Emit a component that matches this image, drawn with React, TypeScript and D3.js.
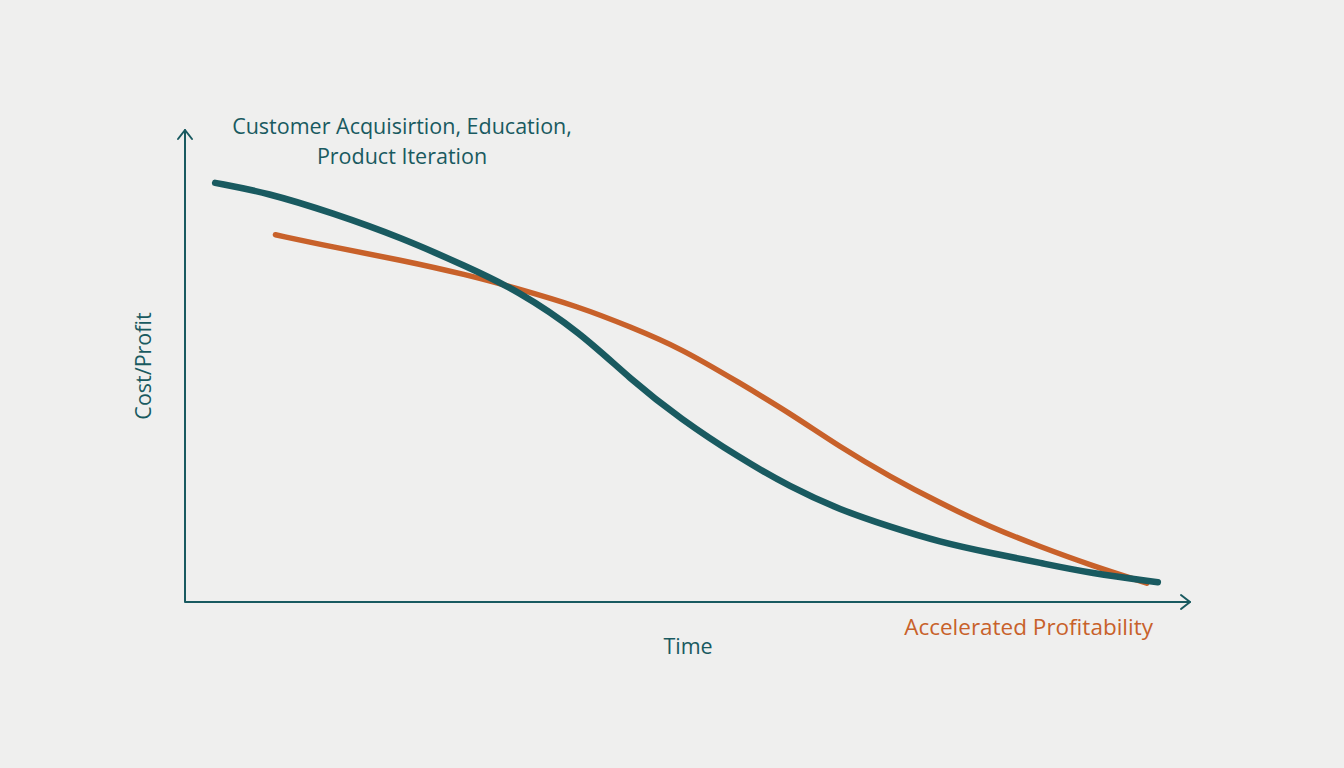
import React from 'react';
import * as d3 from 'd3';

// values, time 0-100 / cost-profit 0-100
const costTime = [3, 8.2, 14.7, 21.4, 28.1, 33, 39.3, 44.3, 49.3, 55.2, 60.2, 65.2, 70.2, 75.1, 80.1, 85.1, 90.1, 96.8];
const costValue = [88.8, 86.7, 82.4, 77.3, 71, 66.1, 57.2, 47.2, 38.8, 30.5, 24.4, 19.5, 15.9, 12.7, 10.4, 8.3, 6.1, 4.2];

const profitTime = [9, 14.7, 21.4, 28.1, 32.6, 39.3, 44.3, 49.3, 55.2, 60.2, 65.2, 70.2, 75.1, 80.1, 85.1, 90.1, 95.7];
const profitValue = [77.8, 75.2, 72.5, 69.3, 66.7, 62.5, 58.3, 53.8, 46.4, 40, 32.8, 26.5, 21, 15.9, 11.7, 7.8, 4];

const titleLines = ['Customer Acquisirtion, Education,', 'Product Iteration'];
const yLabel = 'Cost/Profit';
const xLabel = 'Time';
const endLabel = 'Accelerated Profitability';

const W = 1344;
const H = 768;
const TEAL = '#195a60';
const ORANGE = '#c8612a';
const FONT = '"Open Sans", "Noto Sans", sans-serif';

export default function App() {
  const xScale = d3.scaleLinear().domain([0, 100]).range([185, 1190]);
  const yScale = d3.scaleLinear().domain([0, 100]).range([602, 130]);

  // basis smooths out the reading noise in the hand-read points
  const line = d3.line<[number, number]>()
    .x((d) => xScale(d[0]))
    .y((d) => yScale(d[1]))
    .curve(d3.curveBasis);

  const costPts = costTime.map((t, i) => [t, costValue[i]] as [number, number]);
  const profitPts = profitTime.map((t, i) => [t, profitValue[i]] as [number, number]);

  const x0 = xScale(0);
  const x1 = xScale(100);
  const y0 = yScale(0);
  const y1 = yScale(100);

  return (
    <svg
      width={W}
      height={H}
      style={{ position: 'absolute', left: 0, top: 0, display: 'block' }}
      fontFamily={FONT}
    >
      <rect width={W} height={H} fill="#efefee" />

      {/* axes */}
      <g stroke={TEAL} strokeWidth={2} fill="none" strokeLinecap="round" strokeLinejoin="round">
        <path d={`M${x0},${y1} L${x0},${y0} L${x1},${y0}`} />
        <path d={`M${x0 - 7},${y1 + 9} L${x0},${y1} L${x0 + 7},${y1 + 9}`} />
        <path d={`M${x1 - 9},${y0 - 7} L${x1},${y0} L${x1 - 9},${y0 + 7}`} />
      </g>

      <path d={line(profitPts) || ''} fill="none" stroke={ORANGE} strokeWidth={5.5} strokeLinecap="round" />
      <path d={line(costPts) || ''} fill="none" stroke={TEAL} strokeWidth={6.5} strokeLinecap="round" />

      <g fill={TEAL} fontSize={21.5} textAnchor="middle">
        {titleLines.map((t, i) => (
          <text key={t} x={402} y={134 + i * 30}>{t}</text>
        ))}
        <text transform={`translate(151, 366) rotate(-90)`}>{yLabel}</text>
        <text x={688} y={654}>{xLabel}</text>
      </g>
      <text x={1153} y={635} fill={ORANGE} fontSize={22.5} textAnchor="end">{endLabel}</text>
    </svg>
  );
}
